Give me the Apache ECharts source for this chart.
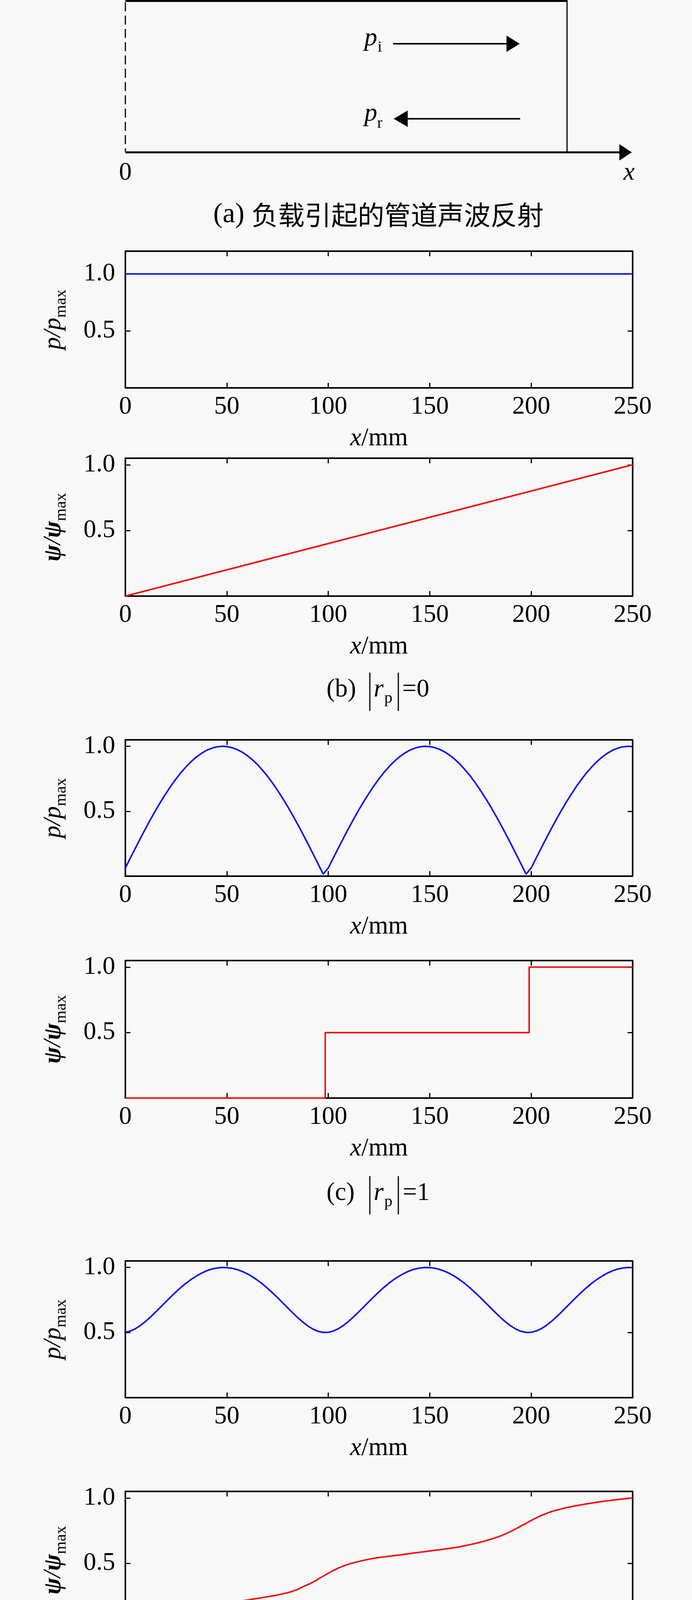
<!DOCTYPE html>
<html><head><meta charset="utf-8">
<script src="https://cdn.jsdelivr.net/npm/echarts@6/dist/echarts.min.js"></script>
<style>html,body{margin:0;padding:0;background:#f8f8f8}#c{width:1772px;height:4475px}</style>
</head><body><div id="c"></div>
<script>
// ---------- data ----------
const XS = [0,2.5,5,7.5,10,12.5,15,17.5,20,22.5,25,27.5,30,32.5,35,37.5,40,42.5,45,47.5,
  50,52.5,55,57.5,60,62.5,65,67.5,70,72.5,75,77.5,80,82.5,85,87.5,90,92.5,95,97.5,
  100,102.5,105,107.5,110,112.5,115,117.5,120,122.5,125,127.5,130,132.5,135,137.5,140,142.5,145,147.5,
  150,152.5,155,157.5,160,162.5,165,167.5,170,172.5,175,177.5,180,182.5,185,187.5,190,192.5,195,197.5,
  200,202.5,205,207.5,210,212.5,215,217.5,220,222.5,225,227.5,230,232.5,235,237.5,240,242.5,245,247.5,250];

const B_P_X = [0, 250];
const B_P_Y = [1, 1];
const B_PSI_X = [0, 250];
const B_PSI_Y = [0, 1];

const C_P_Y = [0.063,0.141,0.218,0.294,0.368,0.440,0.509,0.575,0.637,0.696,0.750,0.800,0.844,0.884,0.918,0.946,0.969,0.985,0.996,1.000,
  0.998,0.990,0.976,0.956,0.930,0.898,0.861,0.818,0.771,0.718,0.661,0.600,0.536,0.468,0.397,0.324,0.249,0.172,0.094,0.016,
  0.063,0.141,0.218,0.294,0.368,0.440,0.509,0.575,0.637,0.696,0.750,0.800,0.844,0.884,0.918,0.946,0.969,0.985,0.996,1.000,
  0.998,0.990,0.976,0.956,0.930,0.898,0.861,0.818,0.771,0.718,0.661,0.600,0.536,0.468,0.397,0.324,0.249,0.172,0.094,0.016,
  0.063,0.141,0.218,0.294,0.368,0.440,0.509,0.575,0.637,0.696,0.750,0.800,0.844,0.884,0.918,0.946,0.969,0.985,0.996,1.000,0.998];

const C_PSI_X = [0, 98.5, 98.5, 199, 199, 250];
const C_PSI_Y = [0, 0, 0.5, 0.5, 1, 1];

const D_P_Y = [0.502,0.512,0.530,0.555,0.586,0.621,0.659,0.698,0.737,0.776,0.813,0.848,0.880,0.909,0.934,0.956,0.974,0.987,0.995,1.000,
  0.999,0.994,0.984,0.970,0.952,0.930,0.903,0.874,0.841,0.805,0.768,0.729,0.690,0.651,0.614,0.580,0.550,0.526,0.509,0.501,
  0.502,0.512,0.530,0.555,0.586,0.621,0.659,0.698,0.737,0.776,0.813,0.848,0.880,0.909,0.934,0.956,0.974,0.987,0.995,1.000,
  0.999,0.994,0.984,0.970,0.952,0.930,0.903,0.874,0.841,0.805,0.768,0.729,0.690,0.651,0.614,0.580,0.550,0.526,0.509,0.501,
  0.502,0.512,0.530,0.555,0.586,0.621,0.659,0.698,0.737,0.776,0.813,0.848,0.880,0.909,0.934,0.956,0.974,0.987,0.995,1.000,0.999];

const D_PSI_Y = [0.000,0.025,0.048,0.067,0.083,0.096,0.106,0.115,0.124,0.132,0.139,0.146,0.152,0.157,0.162,0.167,0.172,0.178,0.184,0.189,
  0.195,0.201,0.207,0.214,0.220,0.227,0.233,0.239,0.245,0.252,0.259,0.268,0.276,0.288,0.302,0.322,0.338,0.358,0.380,0.403,
  0.425,0.446,0.465,0.481,0.494,0.505,0.515,0.524,0.532,0.539,0.545,0.550,0.555,0.560,0.564,0.570,0.575,0.580,0.585,0.590,
  0.595,0.600,0.605,0.610,0.615,0.621,0.628,0.636,0.644,0.653,0.662,0.673,0.684,0.697,0.710,0.727,0.745,0.765,0.786,0.807,
  0.828,0.848,0.866,0.882,0.896,0.907,0.917,0.926,0.934,0.942,0.949,0.955,0.961,0.967,0.973,0.978,0.983,0.988,0.992,0.996,1.000];

const X_TICKS = [0, 50, 100, 150, 200, 250];
const Y_TICKS = [0.5, 1.0];
const Y_TICK_LABELS = ['0.5', '1.0'];

// ---------- styling ----------
const SERIF = '"Liberation Serif","Times New Roman",serif';
const CJK = '"Noto Sans CJK SC",sans-serif';
const BLUE = '#1414e6', RED = '#ee1212', INK = '#000';
const pair = (xs, ys) => xs.map((x, i) => [x, ys[i]]);

const panels = [
  {top: 643,  height: 350, ymax: 1.2,  kind: 'p',   data: pair(B_P_X, B_P_Y),   color: BLUE},
  {top: 1173, height: 353, ymax: 1.05, kind: 'psi', data: pair(B_PSI_X, B_PSI_Y), color: RED},
  {top: 1894, height: 349, ymax: 1.05, kind: 'p',   data: pair(XS, C_P_Y),     color: BLUE},
  {top: 2459, height: 352, ymax: 1.05, kind: 'psi', data: pair(C_PSI_X, C_PSI_Y), color: RED},
  {top: 3228, height: 350, ymax: 1.05, kind: 'p',   data: pair(XS, D_P_Y),     color: BLUE},
  {top: 3818, height: 352, ymax: 1.05, kind: 'psi', data: pair(XS, D_PSI_Y),   color: RED}
];

const axisLine = {show: true, onZero: false, lineStyle: {color: INK, width: 4}};
const tickIn = {show: true, inside: true, length: 13, lineStyle: {color: INK, width: 3}};

const xAxes = [], yAxes = [], grids = [], series = [];
panels.forEach((p, i) => {
  grids.push({left: 321, width: 1299, top: p.top, height: p.height, containLabel: false, outerBoundsMode: 'none'});
  xAxes.push({
    gridIndex: i, type: 'value', min: 0, max: 250, interval: 50, position: 'bottom',
    axisLine, axisTick: Object.assign({}, tickIn, {customValues: X_TICKS}), splitLine: {show: false},
    axisLabel: {show: true, margin: 16, fontFamily: SERIF, fontSize: 65, lineHeight: 65, color: INK,
      customValues: X_TICKS, formatter: v => String(v)},
    name: '{i|x}/mm', nameLocation: 'middle', nameGap: 97,
    nameTextStyle: {fontFamily: SERIF, fontSize: 65, lineHeight: 65, color: INK,
      rich: {i: {fontFamily: SERIF, fontStyle: 'italic', fontSize: 65, lineHeight: 65, color: INK}}}
  });
  xAxes.push({
    gridIndex: i, type: 'value', min: 0, max: 250, interval: 50, position: 'top',
    axisLine, axisTick: Object.assign({}, tickIn, {customValues: X_TICKS}), axisLabel: {show: false}, splitLine: {show: false}
  });
  const sym = p.kind === 'p' ? 'p' : 'ψ';
  const wt = p.kind === 'p' ? 'normal' : 'bold';
  yAxes.push({
    gridIndex: i, type: 'value', min: 0, max: p.ymax, interval: 0.5, position: 'left',
    axisLine, axisTick: Object.assign({}, tickIn, {customValues: Y_TICKS}), splitLine: {show: false},
    axisLabel: {show: true, margin: 26, fontFamily: SERIF, fontSize: 65, color: INK, customValues: Y_TICKS,
      formatter: v => { const k = Y_TICKS.findIndex(t => Math.abs(t - v) < 1e-6); return k >= 0 ? Y_TICK_LABELS[k] : ''; }},
    name: '{m|' + sym + '}{s|/}{m|' + sym + '}{sub|max}', nameLocation: 'middle', nameRotate: 90, nameGap: 144,
    nameTextStyle: {fontFamily: SERIF, fontSize: 64, lineHeight: 80, color: INK,
      rich: {
        m: {fontFamily: SERIF, fontStyle: 'italic', fontWeight: wt, fontSize: 64, lineHeight: 80, color: INK},
        s: {fontFamily: SERIF, fontStyle: 'italic', fontSize: 64, lineHeight: 80, color: INK},
        sub: {fontFamily: SERIF, fontSize: 42, lineHeight: 40, padding: [40, 0, 0, 0], color: INK}
      }}
  });
  yAxes.push({
    gridIndex: i, type: 'value', min: 0, max: p.ymax, interval: 0.5, position: 'right',
    axisLine, axisTick: Object.assign({}, tickIn, {customValues: Y_TICKS}), axisLabel: {show: false}, splitLine: {show: false}
  });
  series.push({
    type: 'line', xAxisIndex: 2 * i, yAxisIndex: 2 * i, data: p.data, showSymbol: false, symbol: 'none',
    lineStyle: {color: p.color, width: 4}, itemStyle: {color: p.color}, clip: false, z: 5, animation: false
  });
});

// ---------- annotations (diagram + captions) ----------
const txt = (x, base, text, size, extra) => ({type: 'text', silent: true,
  style: Object.assign({x: x, y: base - 0.3375 * size, text: text, fontSize: size, fontFamily: SERIF, fill: INK,
    align: 'left', verticalAlign: 'middle'}, extra || {})});
const ln = (x1, y1, x2, y2, w, dash) => ({type: 'line', silent: true, shape: {x1, y1, x2, y2},
  style: {stroke: INK, lineWidth: w, lineDash: dash || null}});
const tri = pts => ({type: 'polygon', silent: true, shape: {points: pts}, style: {fill: INK}});
const IT = {fontStyle: 'italic'};

const graphics = [
  // (a) pipe diagram
  ln(321, 2.5, 1452, 2.5, 5),
  ln(321, 6, 321, 388, 3, [23, 11]),
  ln(1452, 0, 1452, 390, 3),
  ln(321, 390, 1592, 390, 5),
  tri([[1618, 390], [1586, 369], [1586, 411]]),
  ln(1007, 112, 1300, 112, 4),
  tri([[1331, 112], [1297, 91], [1297, 133]]),
  ln(1040, 304, 1332, 304, 4),
  tri([[1008, 304], [1044, 283], [1044, 325]]),
  txt(933, 121, 'p', 66, IT), txt(967, 135, 'i', 40),
  txt(933, 314, 'p', 66, IT), txt(966, 330, 'r', 40),
  txt(321, 465, '0', 65, {align: 'center'}),
  txt(1611, 465, 'x', 65, {align: 'center', fontStyle: 'italic'}),
  {type: 'text', silent: true, style: {x: 969, y: 550, align: 'center', verticalAlign: 'middle',
    text: '{l|(a) }{c|负载引起的管道声波反射}',
    rich: {l: {fontFamily: SERIF, fontSize: 72, fill: INK}, c: {fontFamily: CJK, fontSize: 68, fill: INK}}}},
  // (b)
  txt(836, 1788, '(b)', 65), ln(947, 1722, 947, 1820, 3),
  txt(957, 1788, 'r', 65, IT), txt(984, 1802, 'p', 42), ln(1020, 1722, 1020, 1820, 3),
  txt(1030, 1788, '=0', 65),
  // (c)
  txt(836, 3077, '(c)', 65), ln(947, 3011, 947, 3109, 3),
  txt(957, 3077, 'r', 65, IT), txt(984, 3091, 'p', 42), ln(1020, 3011, 1020, 3109, 3),
  txt(1031, 3077, '=1', 65),
  // (d)
  txt(802, 4444, '(d)', 65), txt(898, 4444, '0<', 65), ln(981, 4378, 981, 4475, 3),
  txt(991, 4444, 'r', 65, IT), txt(1018, 4458, 'p', 42), ln(1053, 4378, 1053, 4475, 3),
  txt(1064, 4444, '<1', 65)
];

const chart = echarts.init(document.getElementById('c'), null, {renderer: 'canvas'});
chart.setOption({
  backgroundColor: '#f8f8f8',
  animation: false,
  grid: grids, xAxis: xAxes, yAxis: yAxes, series: series,
  graphic: graphics
});
</script>
</body></html>
